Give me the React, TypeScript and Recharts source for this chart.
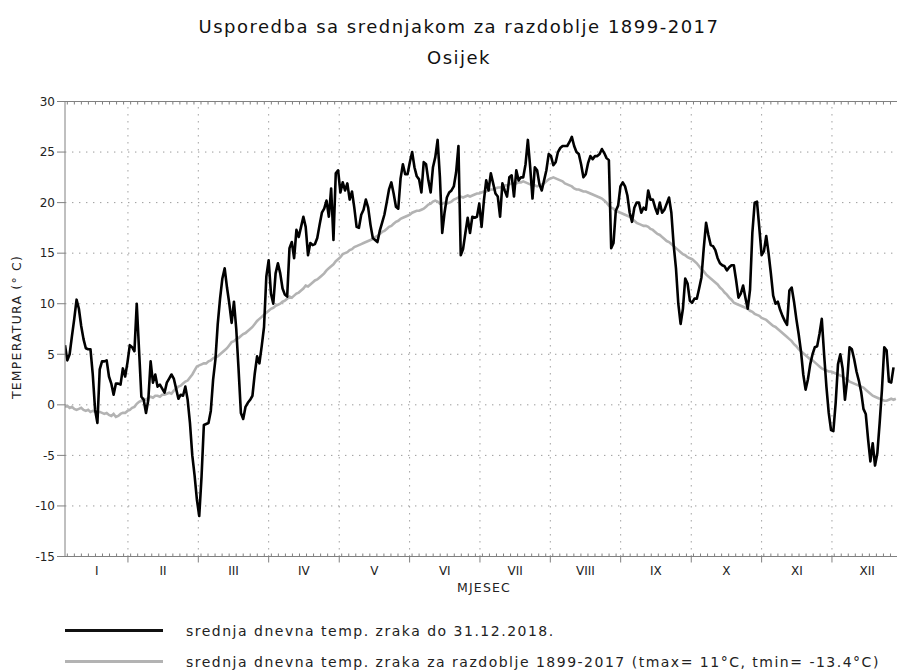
import React from 'react';
import { LineChart, Line, XAxis, YAxis, CartesianGrid, ReferenceLine } from 'recharts';

// Daily mean air temperature 2018 (Osijek), °C
const T2018: number[] = [
  5.9, 4.4, 5.0, 6.8, 8.5, 10.4, 9.5, 7.8, 6.5, 5.6,
  5.5, 5.5, 3.0, -0.5, -1.8, 3.5, 4.3, 4.3, 4.4, 2.8,
  2.1, 1.0, 2.1, 2.1, 2.0, 3.6, 2.8, 4.2, 5.9, 5.7,
  5.3, 10.0, 5.4, 0.8, 0.5, -0.8, 0.5, 4.3, 2.2, 3.0,
  1.8, 2.0, 1.6, 1.2, 2.2, 2.6, 3.0, 2.6, 1.6, 0.6,
  1.0, 0.9, 1.8, 0.5, -1.8, -5.0, -7.0, -9.4, -11.0, -7.1,
  -2.0, -1.9, -1.8, -0.6, 2.5, 4.5, 8.0, 10.5, 12.5, 13.5,
  11.6, 10.0, 8.1, 10.2, 7.5, 3.5, -0.8, -1.4, -0.2, 0.2,
  0.5, 0.9, 3.1, 4.8, 4.1, 5.8, 7.7, 12.7, 14.3, 11.0,
  10.0, 13.0, 14.0, 13.0, 11.5, 10.9, 10.7, 15.5, 16.1, 14.5,
  17.3, 16.6, 17.6, 18.6, 17.6, 14.8, 16.0, 15.8, 15.9, 16.5,
  17.8, 19.0, 19.4, 20.2, 18.6, 21.4, 16.3, 22.9, 23.2, 21.0,
  22.0, 21.2, 21.9, 20.3, 21.1, 19.5, 17.6, 17.5, 18.8, 19.3,
  20.3, 19.5, 17.8, 16.5, 16.3, 16.1, 17.2, 18.0, 18.8, 20.0,
  21.3, 22.0, 20.9, 19.6, 19.4, 22.4, 23.8, 22.8, 22.8, 24.0,
  25.0, 23.5, 22.6, 22.3, 21.0, 24.0, 23.8, 22.2, 21.0, 23.5,
  24.5, 26.2, 22.5, 17.0, 19.0, 20.5, 21.0, 21.2, 21.6, 23.0,
  25.6, 14.8, 15.4, 17.0, 18.5, 17.0, 18.6, 18.5, 18.6, 19.9,
  17.6, 20.2, 22.2, 21.2, 22.9, 21.9, 20.9, 20.6, 18.6, 21.9,
  21.2, 20.6, 22.5, 22.7, 20.6, 23.2, 22.2, 22.5, 22.5, 23.8,
  26.2, 23.5, 20.4, 23.5, 23.2, 21.8, 21.2, 22.2, 23.2, 24.8,
  24.6, 23.7, 24.0, 25.0, 25.4, 25.6, 25.6, 25.6, 26.0, 26.5,
  25.6, 25.0, 24.8, 23.8, 22.5, 22.8, 23.9, 24.6, 24.3, 24.6,
  24.6, 24.8, 25.3, 24.9, 24.4, 24.2, 15.5, 16.0, 19.2, 19.7,
  21.6, 22.0, 21.6, 20.7, 19.0, 18.1, 19.5, 20.0, 20.0, 19.0,
  19.5, 19.3, 21.2, 20.3, 20.3, 19.5, 18.9, 20.0, 19.0, 19.3,
  19.9, 20.5, 19.0, 15.8, 13.5, 10.0, 8.0, 9.5, 12.5, 12.0,
  10.3, 10.1, 10.5, 10.5, 11.5, 12.6, 15.5, 18.0, 16.8, 15.8,
  15.7, 15.3, 14.5, 14.0, 13.8, 13.7, 13.3, 13.6, 13.8, 13.8,
  12.3, 10.6, 11.0, 11.8, 10.6, 9.5, 11.4, 17.0, 20.0, 20.1,
  17.5, 14.8, 15.2, 16.7, 15.0, 13.0, 10.8, 10.0, 10.2, 9.4,
  8.8, 8.3, 7.9, 11.3, 11.6, 10.2, 8.5, 7.0, 5.3, 3.0,
  1.5, 2.5, 4.0, 5.0, 5.7, 5.8, 7.0, 8.5, 5.0, 1.8,
  -0.8, -2.5, -2.6, 0.2, 4.0, 5.0, 3.6, 0.5, 2.5, 5.7,
  5.5, 4.5, 3.3, 2.4, 1.3, -0.4, -0.9, -3.4, -5.6, -3.8,
  -6.0, -4.8, -1.8, 1.5, 5.7, 5.4, 2.3, 2.2, 3.7,
];

// Daily mean air temperature 1899-2017 (climatology), °C
const CLIM: number[] = [
  -0.2, -0.1, -0.3, -0.2, -0.4, -0.5, -0.4, -0.3, -0.5, -0.6,
  -0.5, -0.7, -0.6, -0.7, -0.8, -0.7, -0.8, -0.9, -0.8, -1.0,
  -1.1, -0.9, -1.2, -1.1, -0.9, -0.8, -0.8, -0.6, -0.5, -0.3,
  -0.2, 0.1, 0.3, 0.4, 0.6, 0.5, 0.7, 0.8, 0.7, 0.9,
  0.9, 0.8, 1.0, 1.0, 1.1, 1.2, 1.1, 1.4, 1.6, 1.8,
  1.9, 2.1, 2.3, 2.4, 2.7, 3.0, 3.4, 3.8, 3.9, 4.0,
  4.1, 4.1, 4.3, 4.4, 4.6, 4.7, 4.8, 5.0, 5.2, 5.4,
  5.6, 5.9, 6.2, 6.3, 6.5, 6.6, 6.8, 7.0, 7.1, 7.3,
  7.5, 7.7, 8.0, 8.3, 8.5, 8.7, 8.9, 9.1, 9.3, 9.5,
  9.6, 9.8, 9.9, 10.0, 10.2, 10.3, 10.5, 10.7, 10.6, 10.8,
  11.0, 11.1, 11.3, 11.5, 11.8, 11.7, 11.9, 12.1, 12.3, 12.4,
  12.6, 12.8, 13.0, 13.3, 13.5, 13.7, 13.9, 14.2, 14.4, 14.6,
  14.9, 15.0, 15.1, 15.3, 15.4, 15.6, 15.7, 15.8, 15.9, 16.0,
  16.1, 16.2, 16.3, 16.4, 16.6, 16.7, 16.9, 17.1, 17.2, 17.4,
  17.6, 17.7, 17.9, 18.1, 18.2, 18.4, 18.5, 18.6, 18.7, 18.8,
  19.0, 19.1, 19.2, 19.2, 19.3, 19.4, 19.6, 19.8, 19.9, 20.1,
  20.2, 20.1, 19.9, 19.9, 20.0, 19.9, 20.0, 20.1, 20.3, 20.4,
  20.5, 20.6, 20.5, 20.6, 20.7, 20.6, 20.7, 20.8, 20.9, 20.9,
  21.0, 21.1, 21.1, 21.2, 21.3, 21.3, 21.4, 21.5, 21.5, 21.6,
  21.7, 21.7, 21.8, 21.9, 21.9, 21.9, 22.0, 22.0, 22.1, 22.0,
  21.9, 21.8, 21.7, 21.7, 21.6, 21.7, 21.8, 21.9, 22.1, 22.3,
  22.4, 22.5, 22.4, 22.3, 22.2, 22.1, 21.9, 21.8, 21.7, 21.6,
  21.4, 21.3, 21.3, 21.2, 21.1, 21.1, 21.0, 20.9, 20.8, 20.7,
  20.6, 20.5, 20.4, 20.2, 20.0, 19.7, 19.5, 19.4, 19.2, 19.1,
  19.0, 18.9, 18.8, 18.7, 18.6, 18.4, 18.2, 18.0, 17.9, 17.8,
  17.7, 17.7, 17.6, 17.4, 17.3, 17.1, 16.9, 16.8, 16.6, 16.4,
  16.2, 16.1, 15.9, 15.7, 15.5, 15.3, 15.1, 14.9, 14.8, 14.6,
  14.5, 14.4, 14.2, 14.0, 13.7, 13.4, 13.2, 12.9, 12.7, 12.5,
  12.3, 12.1, 11.9, 11.6, 11.4, 11.1, 10.9, 10.6, 10.4, 10.1,
  10.0, 9.9, 9.8, 9.7, 9.6, 9.5, 9.3, 9.2, 9.0, 8.9,
  8.8, 8.6, 8.5, 8.4, 8.2, 8.0, 7.8, 7.7, 7.5, 7.3,
  7.1, 6.9, 6.7, 6.5, 6.3, 6.0, 5.8, 5.5, 5.3, 5.1,
  4.9, 4.7, 4.5, 4.4, 4.2, 4.0, 3.8, 3.6, 3.5, 3.4,
  3.3, 3.3, 3.2, 3.1, 3.0, 2.9, 2.8, 2.6, 2.5, 2.3,
  2.2, 2.1, 2.0, 1.9, 1.8, 1.7, 1.5, 1.3, 1.1, 0.9,
  0.8, 0.7, 0.6, 0.5, 0.4, 0.4, 0.5, 0.6, 0.5, 0.6,
];

const MONTH_LABELS = ['I', 'II', 'III', 'IV', 'V', 'VI', 'VII', 'VIII', 'IX', 'X', 'XI', 'XII'];
const MONTH_LABEL_POS = [14.7, 43.4, 73.8, 104.2, 134.7, 165.1, 195.5, 225.9, 256.3, 286.8, 317.2, 347.6];
const MONTH_BOUNDS = [28.2, 58.6, 89.0, 119.5, 149.9, 180.3, 210.7, 241.1, 271.6, 302.0, 332.4];
const Y_TICKS = [-15, -10, -5, 0, 5, 10, 15, 20, 25, 30];
const X_DOMAIN: [number, number] = [1, 360.5];

const data = CLIM.map((c, i) => ({
  day: i + 1,
  clim: c,
  t2018: i < T2018.length ? T2018[i] : null,
}));

const Y_MINOR = Array.from({ length: 46 }, (_, i) => -15 + i);
const X_MINOR = Array.from({ length: 119 }, (_, i) => 2 + i * 3.04);

const FONT = '"DejaVu Sans", Verdana, sans-serif';
const AXIS_COLOR = '#808080';
const GRID_COLOR = '#9a9a9a';
const GRID_DASH = '1.4 5.6';

const NoLabel = () => <g />;

export default function App() {
  return (
    <div style={{ position: 'absolute', left: 0, top: 0, width: 897, height: 671, background: '#fff', fontFamily: FONT, overflow: 'hidden' }}>
      <LineChart width={897} height={671} data={data} margin={{ top: 101.5, right: 0, bottom: 68.5, left: 6 }}>
        <CartesianGrid xAxisId="b_main" yAxisId="main" vertical={false} stroke={GRID_COLOR} strokeDasharray={GRID_DASH} />
        {MONTH_BOUNDS.map((b) => (
          <ReferenceLine key={b} x={b} xAxisId="b_main" yAxisId="main" stroke={GRID_COLOR} strokeDasharray={GRID_DASH} />
        ))}
        <XAxis xAxisId="a_bminor" orientation="bottom" mirror dataKey="day" type="number" domain={X_DOMAIN} allowDataOverflow
          ticks={X_MINOR} tick={NoLabel} tickSize={3} axisLine={false} stroke={AXIS_COLOR} interval={0} />
        <XAxis xAxisId="b_main" dataKey="day" type="number" domain={X_DOMAIN} allowDataOverflow ticks={MONTH_BOUNDS}
          tick={NoLabel} tickSize={6} height={6} stroke={AXIS_COLOR} interval={0} />
        <XAxis xAxisId="c_lab" dataKey="day" type="number" domain={X_DOMAIN} allowDataOverflow ticks={MONTH_LABEL_POS}
          tickLine={false} axisLine={false} tickSize={0} tickMargin={4} height={40} interval={0}
          tickFormatter={(v: number) => MONTH_LABELS[MONTH_LABEL_POS.indexOf(v)] ?? ''}
          tick={{ fill: '#222', fontSize: 12, fontFamily: FONT }} />
        <XAxis xAxisId="top" orientation="top" mirror dataKey="day" type="number" domain={X_DOMAIN} allowDataOverflow
          ticks={X_MINOR} tick={NoLabel} tickSize={3} stroke={AXIS_COLOR} interval={0} />
        <YAxis yAxisId="main" type="number" domain={[-15, 30]} ticks={Y_TICKS} width={59} tickSize={8} tickMargin={2}
          stroke={AXIS_COLOR} interval={0} tick={{ fill: '#222', fontSize: 12, fontFamily: FONT }} />
        <YAxis yAxisId="minor" orientation="left" mirror type="number" domain={[-15, 30]} ticks={Y_MINOR}
          tick={NoLabel} tickSize={3} axisLine={false} stroke={AXIS_COLOR} interval={0} />
        <Line xAxisId="b_main" yAxisId="main" dataKey="clim" type="linear" stroke="#b3b3b3" strokeWidth={2.6}
          dot={false} isAnimationActive={false} />
        <Line xAxisId="b_main" yAxisId="main" dataKey="t2018" type="linear" stroke="#000" strokeWidth={2.6}
          dot={false} isAnimationActive={false} strokeLinejoin="round" />
      </LineChart>

      <div style={{ position: 'absolute', left: 0, width: 918, top: 15, textAlign: 'center', fontSize: 18, letterSpacing: 1.5, color: '#111', lineHeight: '24px' }}>
        Usporedba sa srednjakom za razdoblje 1899-2017
      </div>
      <div style={{ position: 'absolute', left: 0, width: 918, top: 46, textAlign: 'center', fontSize: 18, letterSpacing: 1.5, color: '#111', lineHeight: '24px' }}>
        Osijek
      </div>
      <div style={{ position: 'absolute', left: 17, top: 327, width: 0, height: 0 }}>
        <div style={{ position: 'absolute', left: -100, top: -8, width: 200, textAlign: 'center', fontSize: 12.5, letterSpacing: 1.2, color: '#222', lineHeight: '16px', transform: 'rotate(-90deg)' }}>
          TEMPERATURA (° C)
        </div>
      </div>
      <div style={{ position: 'absolute', left: 384, width: 200, top: 580, textAlign: 'center', fontSize: 12.5, letterSpacing: 1.2, color: '#222', lineHeight: '16px' }}>
        MJESEC
      </div>

      <div style={{ position: 'absolute', left: 65, top: 628.5, width: 98, height: 3, background: '#111' }} />
      <div style={{ position: 'absolute', left: 186, top: 622, fontSize: 14, letterSpacing: 1.5, color: '#222', lineHeight: '18px', whiteSpace: 'nowrap' }}>
        srednja dnevna temp. zraka do 31.12.2018.
      </div>
      <div style={{ position: 'absolute', left: 65, top: 660, width: 98, height: 3, background: '#b3b3b3' }} />
      <div style={{ position: 'absolute', left: 186, top: 652.5, fontSize: 14, letterSpacing: 1.5, color: '#222', lineHeight: '18px', whiteSpace: 'nowrap' }}>
        srednja dnevna temp. zraka za razdoblje 1899-2017 (tmax= 11°C, tmin= -13.4°C)
      </div>
    </div>
  );
}
